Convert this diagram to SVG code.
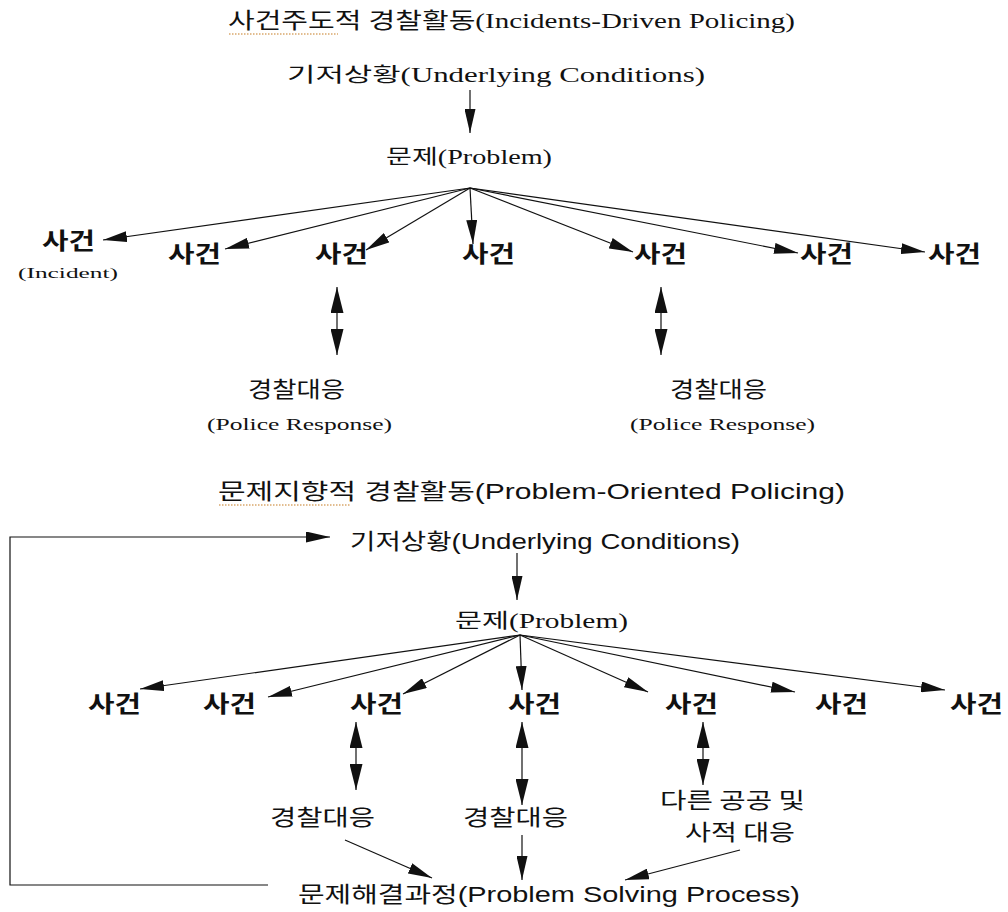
<svg xmlns="http://www.w3.org/2000/svg" width="1008" height="912" viewBox="0 0 1008 912">
<style>
.serif{font-family:"Liberation Serif","Noto Sans CJK KR",serif;fill:#111}
.sans{font-family:"Liberation Sans Narrow","Liberation Sans","Noto Sans CJK KR",sans-serif;fill:#111}
.kr{font-family:"Noto Sans CJK KR",sans-serif;fill:#111}
.inc{font-family:"Noto Sans CJK KR",sans-serif;font-size:23px;font-weight:600;fill:#111}
.ln{stroke:#111;stroke-width:1.2;fill:none;marker-end:url(#ah)}
.dbl{stroke:#111;stroke-width:1.2;fill:none;marker-end:url(#ah2);marker-start:url(#ah2)}
.sq{stroke:#d9a86c;stroke-width:1.5;stroke-dasharray:1.5 1.5;fill:none}
</style>
<defs>
<marker id="ah" markerUnits="userSpaceOnUse" viewBox="0 0 24 11" markerWidth="24" markerHeight="11" refX="24" refY="5.5" orient="auto-start-reverse">
<path d="M0,0 L24,5.5 L0,11 z" fill="#111"/>
</marker>
<marker id="ah2" markerUnits="userSpaceOnUse" viewBox="0 0 26 13" markerWidth="26" markerHeight="13" refX="26" refY="6.5" orient="auto-start-reverse">
<path d="M0,0 L26,6.5 L0,13 z" fill="#111"/>
</marker>
</defs>
<rect width="1008" height="912" fill="#fff"/>

<g id="top-title">
<text class="serif" x="228" y="28" font-size="22" textLength="567" lengthAdjust="spacingAndGlyphs">사건주도적 경찰활동(Incidents-Driven Policing)</text>
<path class="sq" d="M229,34 H338"/>
</g>
<g id="top-conditions"><text class="serif" x="287" y="82" font-size="20" textLength="418" lengthAdjust="spacingAndGlyphs">기저상황(Underlying Conditions)</text></g>
<g id="top-problem"><text class="serif" x="386" y="164" font-size="20" textLength="166" lengthAdjust="spacingAndGlyphs">문제(Problem)</text></g>
<g id="top-inc1"><text class="inc" x="42" y="249" textLength="53" lengthAdjust="spacingAndGlyphs">사건</text>
<text class="serif" x="18" y="278" font-size="15" textLength="100" lengthAdjust="spacingAndGlyphs">(Incident)</text></g>
<g id="top-inc2"><text class="inc" x="168" y="262" textLength="53" lengthAdjust="spacingAndGlyphs">사건</text></g>
<g id="top-inc3"><text class="inc" x="315" y="262" textLength="53" lengthAdjust="spacingAndGlyphs">사건</text></g>
<g id="top-inc4"><text class="inc" x="462" y="262" textLength="53" lengthAdjust="spacingAndGlyphs">사건</text></g>
<g id="top-inc5"><text class="inc" x="634" y="262" textLength="53" lengthAdjust="spacingAndGlyphs">사건</text></g>
<g id="top-inc6"><text class="inc" x="800" y="262" textLength="53" lengthAdjust="spacingAndGlyphs">사건</text></g>
<g id="top-inc7"><text class="inc" x="928" y="262" textLength="53" lengthAdjust="spacingAndGlyphs">사건</text></g>
<g id="top-resp1"><text class="kr" x="248" y="397" font-size="22" textLength="97" lengthAdjust="spacingAndGlyphs">경찰대응</text>
<text class="serif" x="207" y="430" font-size="16" textLength="185" lengthAdjust="spacingAndGlyphs">(Police Response)</text></g>
<g id="top-resp2"><text class="kr" x="670" y="397" font-size="22" textLength="97" lengthAdjust="spacingAndGlyphs">경찰대응</text>
<text class="serif" x="630" y="430" font-size="16" textLength="185" lengthAdjust="spacingAndGlyphs">(Police Response)</text></g>

<g id="bot-title">
<text class="sans" x="218" y="499" font-size="22" textLength="627" lengthAdjust="spacingAndGlyphs">문제지향적 경찰활동(Problem-Oriented Policing)</text>
<path class="sq" d="M219,505 H350"/>
</g>
<g id="bot-conditions"><text class="sans" x="350" y="549" font-size="22" textLength="390" lengthAdjust="spacingAndGlyphs">기저상황(Underlying Conditions)</text></g>
<g id="bot-problem"><text class="serif" x="455" y="628" font-size="20" textLength="173" lengthAdjust="spacingAndGlyphs">문제(Problem)</text></g>
<g id="bot-inc1"><text class="inc" x="88" y="712" textLength="53" lengthAdjust="spacingAndGlyphs">사건</text></g>
<g id="bot-inc2"><text class="inc" x="203" y="712" textLength="53" lengthAdjust="spacingAndGlyphs">사건</text></g>
<g id="bot-inc3"><text class="inc" x="350" y="712" textLength="53" lengthAdjust="spacingAndGlyphs">사건</text></g>
<g id="bot-inc4"><text class="inc" x="508" y="712" textLength="53" lengthAdjust="spacingAndGlyphs">사건</text></g>
<g id="bot-inc5"><text class="inc" x="665" y="712" textLength="53" lengthAdjust="spacingAndGlyphs">사건</text></g>
<g id="bot-inc6"><text class="inc" x="815" y="712" textLength="53" lengthAdjust="spacingAndGlyphs">사건</text></g>
<g id="bot-inc7"><text class="inc" x="950" y="712" textLength="53" lengthAdjust="spacingAndGlyphs">사건</text></g>
<g id="bot-resp1"><text class="kr" x="270" y="825" font-size="22" textLength="105" lengthAdjust="spacingAndGlyphs">경찰대응</text></g>
<g id="bot-resp2"><text class="kr" x="463" y="825" font-size="22" textLength="105" lengthAdjust="spacingAndGlyphs">경찰대응</text></g>
<g id="bot-resp3"><text class="kr" x="660" y="808" font-size="22" textLength="145" lengthAdjust="spacingAndGlyphs">다른 공공 및</text>
<text class="kr" x="685" y="840" font-size="22" textLength="110" lengthAdjust="spacingAndGlyphs">사적 대응</text></g>
<g id="bot-process"><text class="sans" x="298" y="902" font-size="22" textLength="502" lengthAdjust="spacingAndGlyphs">문제해결과정(Problem Solving Process)</text></g>

<g id="connectors">
<line class="ln" x1="470" y1="90" x2="470" y2="133"/>
<line class="ln" x1="470" y1="188" x2="103" y2="240"/>
<line class="ln" x1="470" y1="188" x2="225" y2="249"/>
<line class="ln" x1="470" y1="188" x2="366" y2="250"/>
<line class="ln" x1="470" y1="188" x2="473" y2="244"/>
<line class="ln" x1="470" y1="188" x2="633" y2="252"/>
<line class="ln" x1="470" y1="188" x2="798" y2="253"/>
<line class="ln" x1="470" y1="188" x2="925" y2="252"/>
<line class="dbl" x1="337" y1="287" x2="337" y2="355"/>
<line class="dbl" x1="661" y1="287" x2="661" y2="355"/>

<path class="ln" d="M268,885 H10 V537 H330"/>
<line class="ln" x1="517" y1="553" x2="517" y2="600"/>
<line class="ln" x1="520" y1="635" x2="140" y2="689"/>
<line class="ln" x1="520" y1="635" x2="268" y2="697"/>
<line class="ln" x1="520" y1="635" x2="403" y2="694"/>
<line class="ln" x1="520" y1="635" x2="522" y2="690"/>
<line class="ln" x1="520" y1="635" x2="648" y2="692"/>
<line class="ln" x1="520" y1="635" x2="795" y2="692"/>
<line class="ln" x1="520" y1="635" x2="945" y2="690"/>
<line class="dbl" x1="356" y1="722" x2="356" y2="790"/>
<line class="dbl" x1="522" y1="722" x2="522" y2="805"/>
<line class="dbl" x1="703" y1="722" x2="703" y2="785"/>
<line class="ln" x1="345" y1="840" x2="432" y2="878"/>
<line class="ln" x1="522" y1="835" x2="522" y2="880"/>
<line class="ln" x1="740" y1="850" x2="625" y2="880"/>
</g>
</svg>
